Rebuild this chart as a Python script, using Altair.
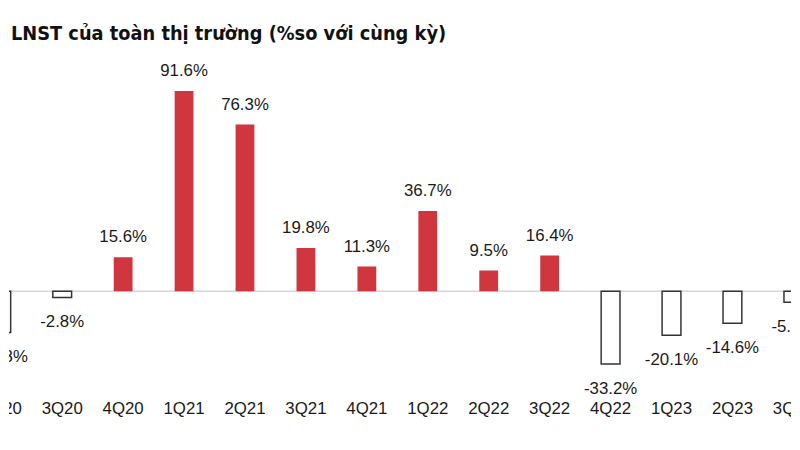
import altair as alt
import pandas as pd

quarters = ["2Q20", "3Q20", "4Q20", "1Q21", "2Q21", "3Q21", "4Q21",
            "1Q22", "2Q22", "3Q22", "4Q22", "1Q23", "2Q23", "3Q23"]
values = [-18.8, -2.8, 15.6, 91.6, 76.3, 19.8, 11.3,
          36.7, 9.5, 16.4, -33.2, -20.1, -14.6, -5.0]
title_text = "LNST của toàn thị trường (%so với cùng kỳ)"

df = pd.DataFrame({"q": quarters, "v": values, "i": list(range(len(quarters)))})
df["label"] = [f"{v:.1f}%" for v in values]
df["zero"] = 0.0

W, H = 792, 434
xs = alt.Scale(domain=[0.208, 12.88], nice=False, zero=False)
ys = alt.Scale(domain=[-67.9, 128.5], nice=False, zero=False)
X = alt.X("i:Q", scale=xs, axis=None)
Y = alt.Y("v:Q", scale=ys, axis=None)

base = alt.Chart(df)
FONT = "Liberation Sans, Arial, sans-serif"

rule = alt.Chart(pd.DataFrame({"z": [0.0]})).mark_rule(
    color="#d6d6d6", strokeWidth=1.5
).encode(y=alt.Y("z:Q", scale=ys, axis=None))

bars_pos = base.transform_filter("datum.v >= 0").mark_bar(
    size=19, color="#d0363e", clip=True
).encode(x=X, y=Y, y2="zero:Q")

bars_neg = base.transform_filter("datum.v < 0").mark_bar(
    size=19, fill="white", stroke="#333333", strokeWidth=1.5, clip=True
).encode(x=X, y=Y, y2="zero:Q")

lab_pos = base.transform_filter("datum.v >= 0").mark_text(
    font=FONT, fontSize=17, color="#1a1a1a", baseline="middle", dy=-20, clip=True
).encode(x=X, y=Y, text="label:N")

lab_neg = base.transform_filter("datum.v < 0").mark_text(
    font=FONT, fontSize=17, color="#1a1a1a", baseline="middle", dy=25, clip=True
).encode(x=X, y=Y, text="label:N")

cats = base.mark_text(
    font=FONT, fontSize=17, color="#1a1a1a", baseline="middle", clip=True
).encode(x=X, y=alt.value(403), text="q:N")

title = alt.Chart(pd.DataFrame({"t": [title_text]})).mark_text(
    font="DejaVu Sans Condensed, Liberation Sans, sans-serif", fontSize=20,
    fontWeight="bold", color="#111111", align="left", baseline="middle"
).encode(x=alt.value(2), y=alt.value(24), text="t:N")

chart = alt.layer(rule, bars_pos, bars_neg, lab_pos, lab_neg, cats, title).properties(
    width=W, height=H, padding=0,
    autosize=alt.AutoSizeParams(type="fit", contains="padding"),
    background="white"
).configure_view(stroke=None)

chart.save("out.html", embed_options={"renderer": "svg", "actions": False})
